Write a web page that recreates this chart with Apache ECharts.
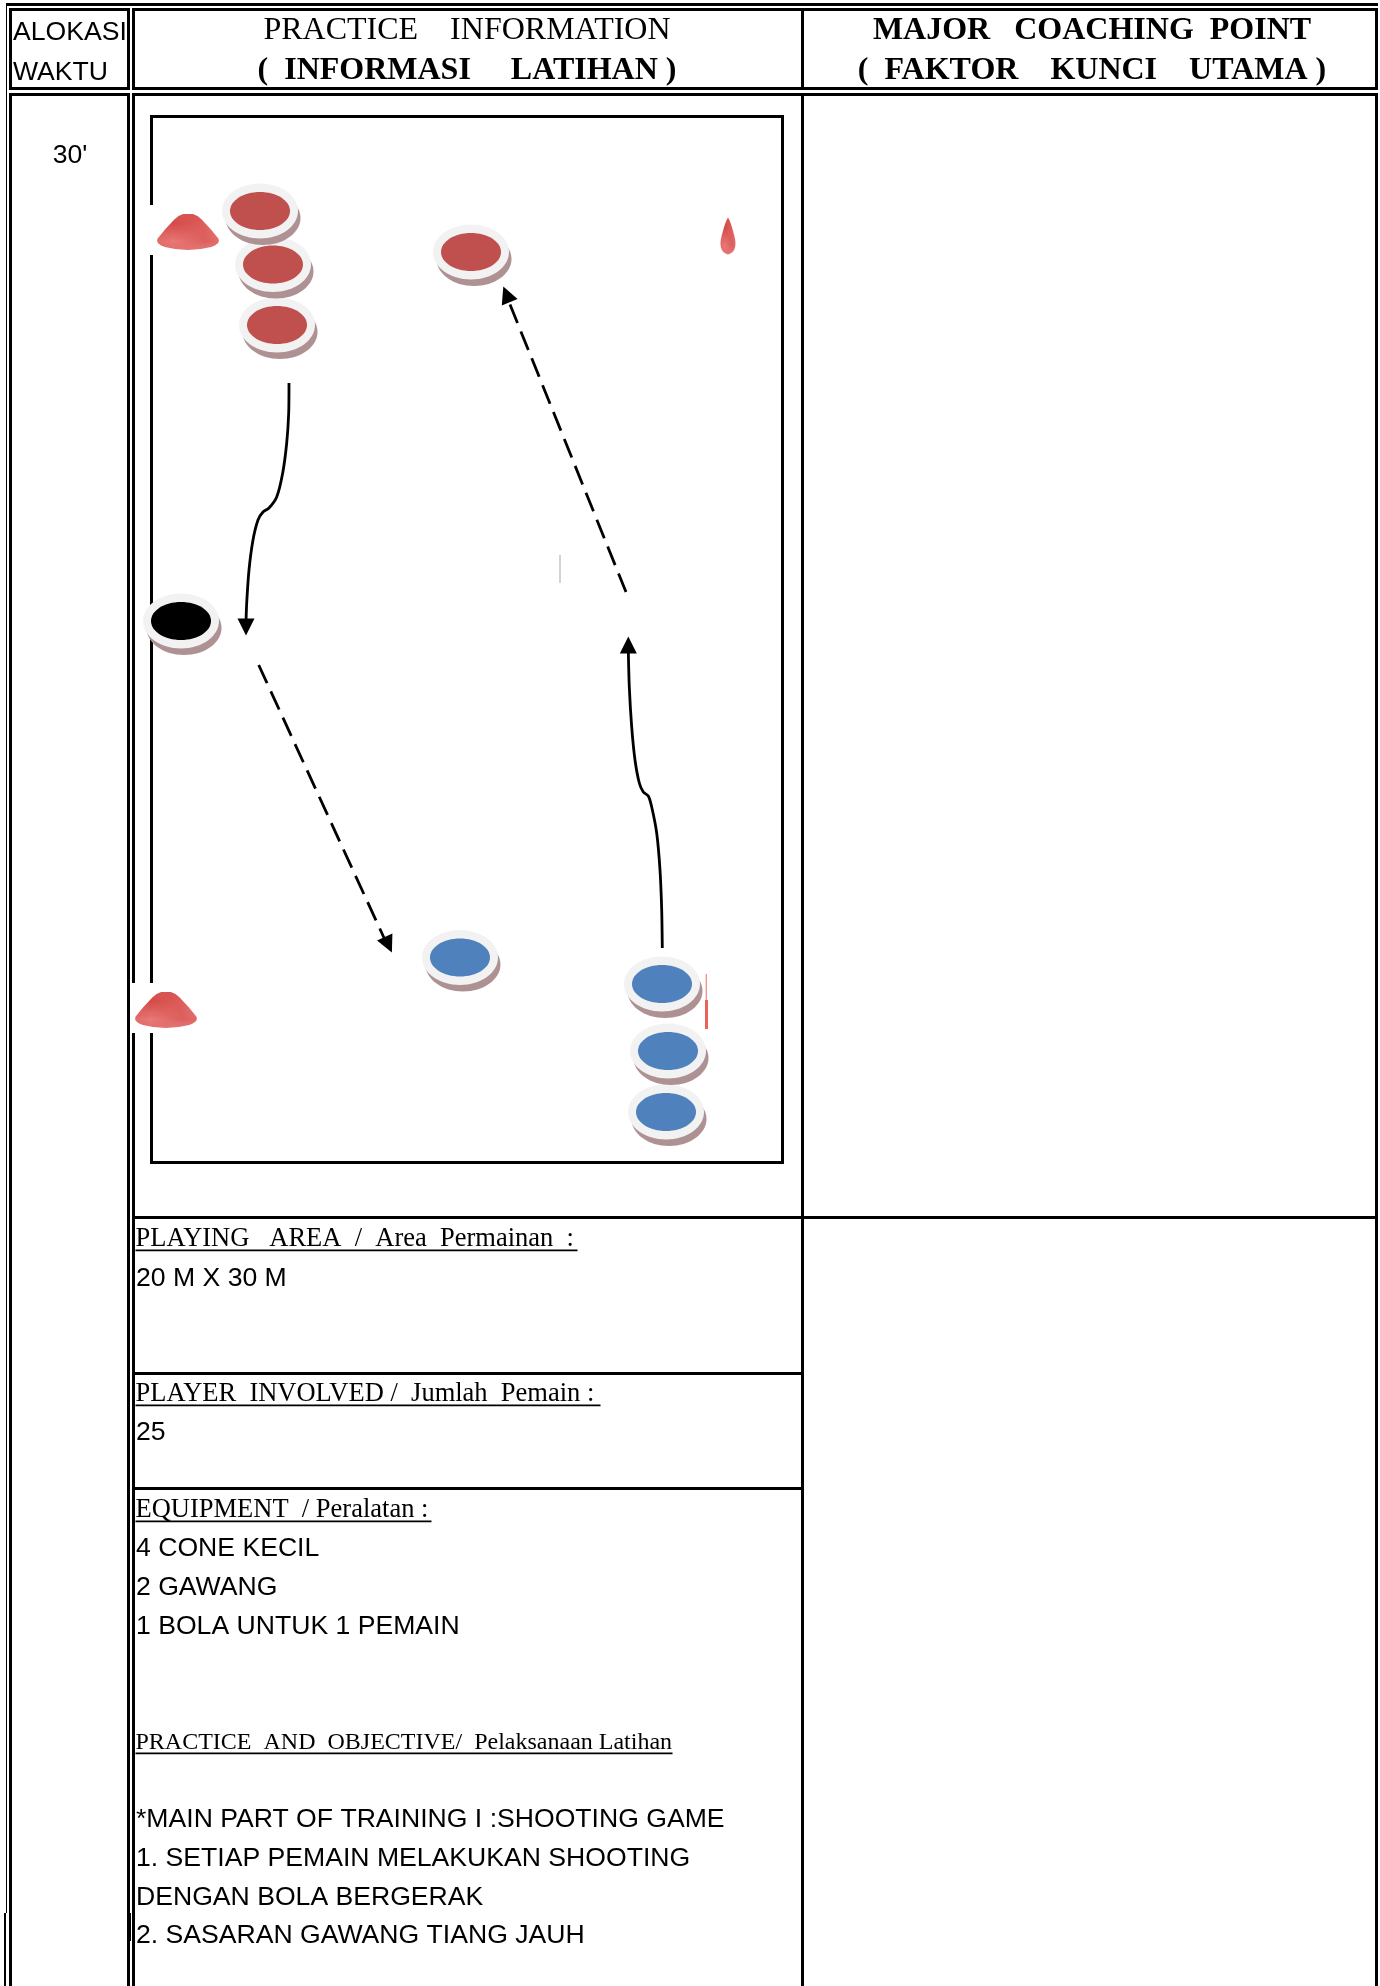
<!DOCTYPE html>
<html>
<head>
<meta charset="utf-8">
<title>Practice information</title>
<style>
  html, body { margin: 0; padding: 0; background: #fff; }
  #main { width: 1380px; height: 1986px; }
</style>
<script src="https://cdn.jsdelivr.net/npm/echarts@6/dist/echarts.min.js"></script>
</head>
<body>
<div id="main"></div>
<script>
// players on the pitch (x, y on the page axes)
// listed bottom layer first, the upper disc's shadow lies over the lower one
const redPlayers = [[277, 325], [273, 264.5], [260, 211], [471, 252]];
const bluePlayers = [[666, 1112], [668, 1051], [662, 984], [460, 957.5]];
const blackPlayers = [[181, 621]];
const bigCones = [[188, 232], [166, 1010]];
const smallCones = [[728, 236]];

// runs between players
const dribbleDown = [[289, 383], [288.7, 413], [286.7, 443], [282.7, 473], [276.7, 497], [269, 508], [263, 512],
  [258, 520], [253, 540], [249, 570], [246.7, 603], [246, 622]];
const dribbleUp = [[662.3, 948], [661.7, 910], [660, 870], [656.7, 833], [651.7, 807], [648.3, 796], [643.3, 792],
  [639.3, 783], [635, 760], [631.7, 727], [629.3, 687], [628.3, 650]];
const passDown = [[258.7, 665], [385, 940]];
const passUp = [[626, 592], [509, 302]];
// x, y, rotation of the arrow heads
const arrowHeads = [[246, 627, 180], [628.3, 645, 0], [388.3, 944.7, 205], [506.5, 294.4, 22]];

const headerTime = ['ALOKASI', 'WAKTU'];
const headerPractice = ['PRACTICE    INFORMATION', '(  INFORMASI     LATIHAN )'];
const headerCoaching = ['MAJOR   COACHING  POINT', '(  FAKTOR    KUNCI    UTAMA )'];
const duration = "30'";
const areaLines = ['PLAYING   AREA  /  Area  Permainan  :', '20 M X 30 M'];
const playerLines = ['PLAYER  INVOLVED /  Jumlah  Pemain :', '25'];
const equipmentLines = ['EQUIPMENT  / Peralatan :', '4 CONE KECIL', '2 GAWANG', '1 BOLA UNTUK 1 PEMAIN'];
const practiceTitle = 'PRACTICE  AND  OBJECTIVE/  Pelaksanaan Latihan';
const practiceLines = ['*MAIN PART OF TRAINING I :SHOOTING GAME', '1. SETIAP PEMAIN MELAKUKAN SHOOTING',
  'DENGAN BOLA BERGERAK', '2. SASARAN GAWANG TIANG JAUH'];

const SANS = '"Liberation Sans", Arial, sans-serif';
const SERIF = '"Liberation Serif", "Times New Roman", serif';

function bar(x, y, w, h, fill) {
  return { type: 'rect', silent: true, z: 1, shape: { x: x, y: y, width: w, height: h }, style: { fill: fill || '#000' } };
}

// baseline is where the letters stand, zrender centres the line box on y
function txt(text, x, baseline, size, family, opts) {
  opts = opts || {};
  return {
    type: 'text', silent: true, z: 5, x: x, y: baseline - size * 0.285,
    style: {
      text: text, fill: '#000', align: opts.align || 'left', verticalAlign: 'middle',
      font: (opts.bold ? 'bold ' : '') + size + 'px ' + family
    }
  };
}

function frame() {
  const rows = [];
  // outer thin line and top rule
  rows.push(bar(6, 3, 1372, 3), bar(6, 3, 1, 1910), bar(4, 1913, 2, 73));
  // header row and body row
  [[8, 82], [93, 1893]].forEach(function (r) {
    [[9, 3], [127, 3], [801, 3], [1375, 3]].forEach(function (c) {
      rows.push(bar(c[0], r[0], c[1], r[1]));
    });
  });
  rows.push(bar(132, 8, 3, 82));
  rows.push(bar(132, 93, 3, 890), bar(132, 1033, 3, 953));
  rows.push(bar(129, 1913, 2, 28));
  [8, 87, 93].forEach(function (y) {
    rows.push(bar(9, y, 121, 3), bar(132, y, 1246, 3));
  });
  rows.push(bar(135, 1216, 1243, 3), bar(135, 1372, 666, 3), bar(135, 1487, 666, 3));
  // pitch, broken on the left where the cones sit on a white box
  rows.push(bar(150, 115, 634, 3), bar(150, 1161, 634, 3), bar(781, 115, 3, 1049));
  rows.push(bar(150, 115, 3, 90), bar(150, 255, 3, 728), bar(150, 1033, 3, 131));
  // stray marks of the scan
  rows.push(bar(559.5, 555, 1, 28, '#a8a8a8'), bar(705.7, 974, 1, 26, '#e36a64'), bar(705, 1000, 3, 29, '#e8635a'));
  return rows;
}

function labels() {
  const t = [];
  t.push(txt(headerTime[0], 13, 40, 26.6, SANS), txt(headerTime[1], 13, 80, 26.6, SANS));
  t.push(txt(headerPractice[0], 467, 40, 32, SERIF, { align: 'center' }));
  t.push(txt(headerPractice[1], 467, 80, 32, SERIF, { align: 'center', bold: true }));
  t.push(txt(headerCoaching[0], 1092, 40, 32, SERIF, { align: 'center', bold: true }));
  t.push(txt(headerCoaching[1], 1092, 80, 32, SERIF, { align: 'center', bold: true }));
  t.push(txt(duration, 70, 163, 26.6, SANS, { align: 'center' }));

  t.push(txt(areaLines[0], 135.5, 1247, 26.5, SERIF), bar(135.5, 1249.5, 442, 1.8));
  t.push(txt(areaLines[1], 136, 1286, 26.6, SANS));
  t.push(txt(playerLines[0], 135.5, 1402, 26.5, SERIF), bar(135.5, 1404.5, 465, 1.8));
  t.push(txt(playerLines[1], 136, 1440, 26.6, SANS));
  t.push(txt(equipmentLines[0], 135.5, 1518, 26.5, SERIF), bar(135.5, 1520.5, 296, 1.8));
  [1556, 1595, 1634].forEach(function (y, i) {
    t.push(txt(equipmentLines[i + 1], 136, y, 26.6, SANS));
  });
  t.push(txt(practiceTitle, 135.5, 1750, 24, SERIF), bar(135.5, 1752.5, 537, 1.8));
  [1827, 1866, 1905, 1943].forEach(function (y, i) {
    t.push(txt(practiceLines[i], 136, y, 26.6, SANS));
  });
  return t;
}

// one disc: brown shadow, pale ring, coloured top
function discSeries(name, data, color) {
  return {
    name: name,
    type: 'custom',
    coordinateSystem: 'cartesian2d',
    z: 4,
    silent: true,
    data: data,
    renderItem: function (params, api) {
      const p = api.coord([api.value(0), api.value(1)]);
      const e = function (dx, dy, rx, ry, fill) {
        return { type: 'ellipse', shape: { cx: p[0] + dx, cy: p[1] + dy, rx: rx, ry: ry }, style: { fill: fill } };
      };
      return {
        type: 'group',
        children: [
          e(3, 7, 37.5, 27, '#ae9193'),
          e(0, 0, 38, 27.5, '#f2f2f2'),
          e(0, 0, 30, 19, color)
        ]
      };
    }
  };
}

function runSeries(data, dashed) {
  return {
    type: 'line',
    z: 3,
    silent: true,
    showSymbol: false,
    smooth: dashed ? false : 0.25,
    data: data,
    lineStyle: { color: '#000', width: 2.8, type: dashed ? [20, 9] : 'solid' }
  };
}

// speckled surface of the cones, a small fixed tile
function coneTile() {
  const rowsOfTile = ['abcab', 'cadba', 'bacdc', 'dabca', 'acbad'];
  const tones = { a: '#dd5f5c', b: '#e87a78', c: '#ec9a9c', d: '#d44a48' };
  const c = document.createElement('canvas');
  c.width = 5;
  c.height = 5;
  const ctx = c.getContext('2d');
  rowsOfTile.forEach(function (row, y) {
    row.split('').forEach(function (k, x) {
      ctx.fillStyle = tones[k];
      ctx.fillRect(x, y, 1, 1);
    });
  });
  return c;
}
const conePattern = { image: coneTile(), repeat: 'repeat' };

const chart = echarts.init(document.getElementById('main'), null, { renderer: 'canvas' });

chart.setOption({
  animation: false,
  backgroundColor: '#fff',
  tooltip: { show: false },
  grid: { left: 0, right: 0, top: 0, bottom: 0 },
  xAxis: { type: 'value', min: 0, max: 1380, show: false },
  yAxis: { type: 'value', min: 0, max: 1986, inverse: true, show: false },
  graphic: { elements: frame().concat(labels()) },
  series: [
    runSeries(dribbleDown, false),
    runSeries(dribbleUp, false),
    runSeries(passDown, true),
    runSeries(passUp, true),
    {
      type: 'scatter',
      z: 3,
      silent: true,
      symbol: 'triangle',
      symbolSize: 17,
      itemStyle: { color: '#000', opacity: 1 },
      data: arrowHeads.map(function (a) {
        return { value: [a[0], a[1]], symbolRotate: a[2] };
      })
    },
    discSeries('red', redPlayers, '#c0504d'),
    discSeries('blue', bluePlayers, '#4f81bd'),
    discSeries('black', blackPlayers, '#000'),
    {
      type: 'scatter',
      z: 4,
      silent: true,
      symbol: 'path://M42 0 L58 0 Q66 3 72 14 Q88 40 100 66 Q104 80 88 88 Q50 104 12 88 Q-4 80 0 66 Q12 40 28 14 Q34 3 42 0 Z',
      symbolSize: [62, 36],
      itemStyle: { opacity: 1, color: conePattern },
      data: bigCones
    },
    {
      type: 'scatter',
      z: 4,
      silent: true,
      symbol: 'path://M50 0 Q64 10 84 50 Q105 92 50 100 Q-5 92 16 50 Q36 10 50 0 Z',
      symbolSize: [15, 37],
      itemStyle: { opacity: 1, color: conePattern },
      data: smallCones
    }
  ]
});
</script>
</body>
</html>
